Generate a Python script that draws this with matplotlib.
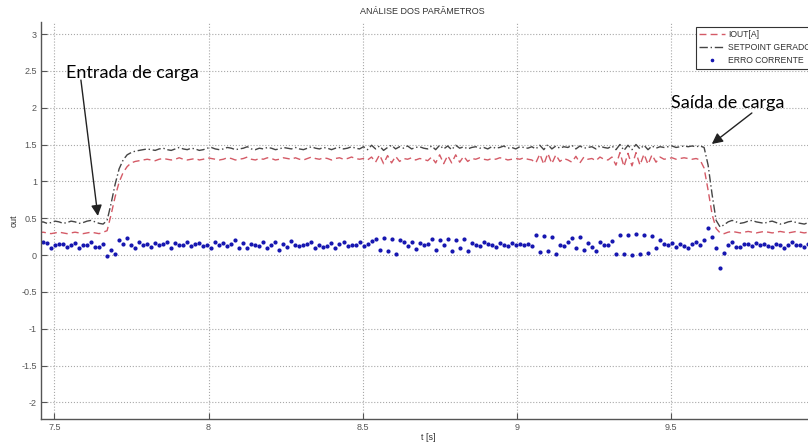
import numpy as np
import matplotlib.pyplot as plt

# sampling of the logged signals
t_start = 7.45
dt = 0.013

setpoint = [
    0.44, 0.45, 0.43, 0.44, 0.46, 0.45, 0.43, 0.44, 0.46, 0.45, 0.43, 0.44, 0.46, 0.47, 0.45, 0.43, 0.42,
    0.47, 0.70, 0.96, 1.17, 1.29, 1.36, 1.39, 1.41,
    1.42, 1.43, 1.44, 1.43, 1.42, 1.44, 1.45, 1.43, 1.42, 1.44,
    1.46, 1.44, 1.43, 1.45, 1.44, 1.42, 1.43, 1.45, 1.46, 1.44,
    1.43, 1.44, 1.46, 1.45, 1.43, 1.44, 1.45, 1.47, 1.44, 1.43,
    1.45, 1.44, 1.46, 1.45, 1.43, 1.44, 1.46, 1.45, 1.44, 1.46,
    1.44, 1.43, 1.45, 1.47, 1.45, 1.44, 1.46, 1.45, 1.43, 1.45,
    1.46, 1.44, 1.45, 1.47, 1.45, 1.44,
    1.47, 1.43, 1.49, 1.44, 1.48, 1.42, 1.46, 1.49, 1.44, 1.47,
    1.45, 1.48, 1.44, 1.46, 1.47, 1.45, 1.44, 1.48, 1.43, 1.49,
    1.44, 1.48, 1.43, 1.49, 1.45, 1.47, 1.44, 1.46, 1.47, 1.45,
    1.46, 1.44, 1.47, 1.45, 1.46, 1.48, 1.45, 1.46, 1.44, 1.47,
    1.46, 1.45, 1.47, 1.44, 1.49, 1.43, 1.50, 1.44, 1.48, 1.45,
    1.47, 1.46, 1.49, 1.44, 1.48, 1.45, 1.46, 1.47, 1.44, 1.48,
    1.46, 1.45, 1.48, 1.43, 1.50, 1.42, 1.49, 1.43, 1.50, 1.44,
    1.49, 1.43, 1.48, 1.45, 1.47, 1.46, 1.47, 1.48, 1.46, 1.47,
    1.48, 1.47, 1.48, 1.47, 1.48,
    1.46, 1.22, 0.82, 0.47, 0.38, 0.41, 0.45, 0.47, 0.45, 0.43,
    0.44, 0.46, 0.47, 0.45, 0.44, 0.43, 0.45, 0.46, 0.44, 0.42,
    0.43, 0.45, 0.46, 0.44, 0.43, 0.42, 0.44, 0.46, 0.45, 0.44,
]

iout = [
    0.30, 0.31, 0.30, 0.29, 0.30, 0.31, 0.30, 0.29, 0.30, 0.31, 0.30, 0.29, 0.30, 0.31, 0.30, 0.29, 0.31,
    0.33, 0.55, 0.79, 0.99, 1.12, 1.20, 1.25, 1.27,
    1.28, 1.29, 1.30, 1.29, 1.28, 1.30, 1.31, 1.30, 1.29, 1.30,
    1.32, 1.30, 1.29, 1.30, 1.31, 1.29, 1.30, 1.32, 1.31, 1.30,
    1.29, 1.30, 1.32, 1.31, 1.29, 1.30, 1.31, 1.33, 1.30, 1.29,
    1.31, 1.30, 1.32, 1.31, 1.29, 1.30, 1.32, 1.31, 1.30, 1.32,
    1.30, 1.29, 1.31, 1.33, 1.31, 1.30, 1.32, 1.31, 1.29, 1.31,
    1.32, 1.30, 1.31, 1.33, 1.31, 1.30,
    1.31, 1.29, 1.33, 1.26, 1.36, 1.24, 1.35, 1.25, 1.34, 1.27,
    1.31, 1.30, 1.32, 1.29, 1.31, 1.30, 1.28, 1.33, 1.25, 1.36,
    1.24, 1.35, 1.25, 1.36, 1.26, 1.34, 1.27, 1.31, 1.30, 1.32,
    1.30, 1.29, 1.31, 1.30, 1.32, 1.31, 1.29, 1.30, 1.31, 1.30,
    1.32, 1.30, 1.29, 1.25, 1.37, 1.23, 1.38, 1.24, 1.36, 1.27,
    1.31, 1.29, 1.26, 1.34, 1.25, 1.33, 1.30, 1.31, 1.28, 1.33,
    1.30, 1.29, 1.33, 1.22, 1.39, 1.20, 1.38, 1.21, 1.39, 1.22,
    1.37, 1.23, 1.36, 1.26, 1.33, 1.30, 1.31, 1.32, 1.30, 1.31,
    1.32, 1.31, 1.30, 1.31, 1.29,
    1.18, 0.88, 0.55, 0.36, 0.30, 0.29, 0.31, 0.32, 0.31, 0.30,
    0.31, 0.32, 0.31, 0.30, 0.31, 0.32, 0.31, 0.30, 0.31, 0.32,
    0.31, 0.30, 0.31, 0.32, 0.31, 0.30, 0.31, 0.32, 0.31, 0.30,
]

erro = [
    0.15, 0.17, 0.16, 0.10, 0.14, 0.15, 0.15, 0.11, 0.14, 0.16, 0.10, 0.14, 0.14, 0.17, 0.11, 0.11, 0.15,
    -0.01, 0.07, 0.02, 0.21, 0.15, 0.23, 0.14, 0.09,
    0.17, 0.13, 0.15, 0.11, 0.16, 0.14, 0.15, 0.17, 0.10, 0.16,
    0.14, 0.13, 0.18, 0.12, 0.15, 0.16, 0.12, 0.14, 0.09, 0.17,
    0.13, 0.16, 0.12, 0.15, 0.20, 0.10, 0.16, 0.09, 0.15, 0.13,
    0.12, 0.17, 0.09, 0.14, 0.18, 0.07, 0.15, 0.11, 0.19, 0.13,
    0.12, 0.14, 0.15, 0.17, 0.10, 0.13, 0.11, 0.12, 0.16, 0.10,
    0.15, 0.18, 0.12, 0.13, 0.14, 0.17,
    0.12, 0.15, 0.19, 0.22, 0.07, 0.23, 0.06, 0.22, 0.02, 0.21,
    0.17, 0.12, 0.18, 0.08, 0.16, 0.13, 0.15, 0.22, 0.07, 0.21,
    0.13, 0.22, 0.06, 0.21, 0.10, 0.22, 0.05, 0.16, 0.14, 0.12,
    0.17, 0.15, 0.13, 0.11, 0.16, 0.14, 0.12, 0.16, 0.13, 0.15,
    0.14, 0.15, 0.12, 0.27, 0.04, 0.26, 0.05, 0.24, 0.02, 0.14,
    0.12, 0.17, 0.23, 0.10, 0.24, 0.07, 0.16, 0.11, 0.05, 0.18,
    0.13, 0.14, 0.19, 0.01, 0.27, 0.02, 0.27, 0.00, 0.28, 0.02,
    0.27, 0.03, 0.26, 0.09, 0.20, 0.15, 0.13, 0.16, 0.11, 0.15,
    0.12, 0.09, 0.15, 0.17, 0.13,
    0.20, 0.36, 0.25, 0.09, -0.17, 0.03, 0.14, 0.18, 0.11, 0.11,
    0.15, 0.15, 0.12, 0.16, 0.13, 0.15, 0.12, 0.11, 0.15, 0.14,
    0.10, 0.13, 0.17, 0.13, 0.14, 0.11, 0.15, 0.12, 0.14, 0.13,
]

x_ticks = [7.5, 8, 8.5, 9, 9.5]
x_tick_labels = ['7.5', '8', '8.5', '9', '9.5']
y_ticks = [-2, -1.5, -1, -0.5, 0, 0.5, 1, 1.5, 2, 2.5, 3]
y_tick_labels = ['-2', '-1.5', '-1', '-0.5', '0', '0.5', '1', '1.5', '2', '2.5', '3']

t = t_start + dt * np.arange(len(setpoint))

plt.rcParams['font.family'] = ['Liberation Sans', 'DejaVu Sans']

W, H = 808, 443
fig = plt.figure(figsize=(W / 100, H / 100), dpi=100)
ax = fig.add_axes([41 / W, 1 - 419 / H, (828 - 41) / W, (419 - 22) / H])

ax.plot(t, iout, color='#d45a66', ls=(0, (5, 3)), lw=1.0, label='IOUT[A]')
ax.plot(t, setpoint, color='#454545', ls=(0, (6, 2, 1, 2)), lw=1.0, label='SETPOINT GERADO')
ax.plot(t, erro, ls='none', marker='.', ms=4, color='#1515b0', label='ERRO CORRENTE')

ax.set_xlim(7.4565, 10.01)
ax.set_ylim(-2.226, 3.163)
ax.set_xticks(x_ticks)
ax.set_xticklabels(x_tick_labels)
ax.set_yticks(y_ticks)
ax.set_yticklabels(y_tick_labels)
ax.grid(True, ls=':', color='#a8a8a8', lw=0.8)
ax.tick_params(direction='in', length=4, width=0.8, colors='#555555', labelsize=6.5, pad=3)
for s in ['top', 'right']:
    ax.spines[s].set_visible(False)
for s in ['left', 'bottom']:
    ax.spines[s].set_color('#555555')
    ax.spines[s].set_linewidth(1.0)

leg = ax.legend(loc='upper left', bbox_to_anchor=(696 / W, 1 - 27 / H), bbox_transform=fig.transFigure,
                fontsize=6.2, frameon=True, fancybox=False, framealpha=1, edgecolor='#333333',
                borderaxespad=0, borderpad=0.4, labelspacing=0.45, handlelength=3.0,
                handletextpad=0.35, markerscale=0.8)
leg.get_frame().set_linewidth(0.8)
for txt in leg.get_texts():
    txt.set_color('#333333')

fig.text(422 / W, 1 - 12 / H, 'ANÁLISE DOS PARÂMETROS', ha='center', va='center', fontsize=6.5, color='#333333')
fig.text(428 / W, 1 - 437 / H, 't [s]', ha='center', va='center', fontsize=6.5, color='#333333')
fig.text(14 / W, 1 - 221 / H, 'out', ha='center', va='center', rotation=90, fontsize=6.5, color='#333333')

# annotations
ax.text(7.537, 2.40, 'Entrada de carga', fontsize=13, family='Lato', ha='left', va='baseline')
ax.annotate('', xy=(7.641, 0.53), xytext=(7.586, 2.375),
            arrowprops=dict(arrowstyle='-|>', color='#222222', lw=1.0, mutation_scale=16, shrinkA=0, shrinkB=0))
ax.text(9.499, 1.995, 'Saída de carga', fontsize=13, family='Lato', ha='left', va='baseline')
ax.annotate('', xy=(9.633, 1.507), xytext=(9.763, 1.928),
            arrowprops=dict(arrowstyle='-|>', color='#222222', lw=1.0, mutation_scale=16, shrinkA=0, shrinkB=0))

fig.savefig('out.png', dpi=100)
